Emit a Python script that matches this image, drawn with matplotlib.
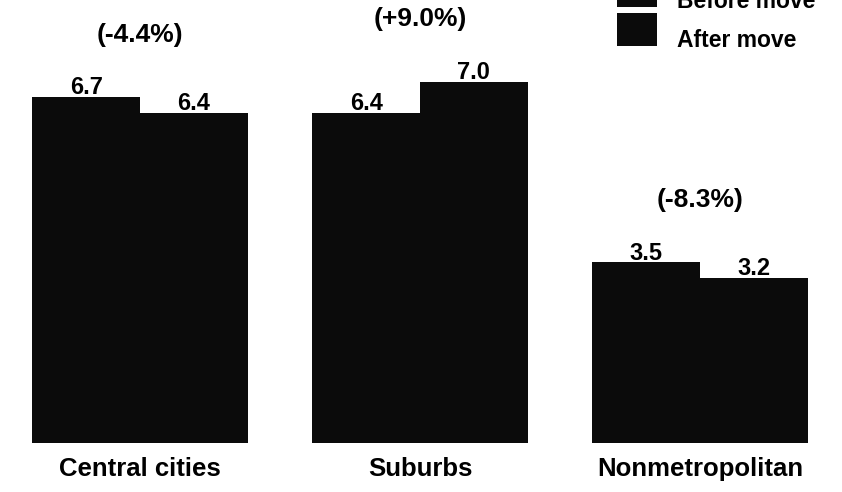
import numpy as np
import matplotlib as mpl
mpl.use('agg')
import matplotlib.pyplot as plt
from matplotlib.container import BarContainer
from matplotlib.legend_handler import HandlerPatch, update_from_first_child
from matplotlib.patches import Rectangle

categories = ['Central cities', 'Suburbs', 'Nonmetropolitan']
before = [6.7, 6.4, 3.5]
after = [6.4, 7.0, 3.2]
before_labels = ['6.7', '6.4', '3.5']
after_labels = ['6.4', '7.0', '3.2']
changes = ['(-4.4%)', '(+9.0%)', '(-8.3%)']

plt.rcParams['font.family'] = ['Liberation Sans', 'DejaVu Sans']
plt.rcParams['font.weight'] = 'bold'

fig = plt.figure(figsize=(8.42, 4.92), dpi=100)
ax = fig.add_axes([0, 49/492, 1, 443/492])

x = np.arange(len(categories))
w = 0.385
ink = '#0b0b0b'
ax.bar(x - w/2, before, w, color=ink, label='Before move')
ax.bar(x + w/2, after, w, color=ink, label='After move')

for i in range(len(x)):
    ax.annotate(before_labels[i], (x[i] - w/2, before[i]), xytext=(0, 2),
                textcoords='offset points', ha='center', va='baseline',
                fontsize=17, fontweight='bold')
    ax.annotate(after_labels[i], (x[i] + w/2, after[i]), xytext=(0, 2),
                textcoords='offset points', ha='center', va='baseline',
                fontsize=17, fontweight='bold')
    ax.annotate(changes[i], (x[i], max(before[i], after[i])), xytext=(0, 45),
                textcoords='offset points', ha='center', va='center',
                fontsize=19, fontweight='bold')

ax.set_xlim(-0.5, 2.507)
ax.set_ylim(0, 8.585)
ax.set_xticks(x)
ax.set_xticklabels(categories, fontsize=18.5, fontweight='bold')
ax.tick_params(axis='x', length=0, pad=10)
ax.set_yticks([])
for s in ax.spines.values():
    s.set_visible(False)


# swatches sit a little higher than the label text in the original
def raised_box(legend, orig_handle, xdescent, ydescent, width, height, fontsize):
    return Rectangle((-xdescent, -ydescent + 0.44 * fontsize), width, height)


fig.legend(loc='upper left', bbox_to_anchor=(617/842, 1 + 16/492),
           frameon=False, borderpad=0, borderaxespad=0,
           handlelength=1.74, handleheight=1.85, handletextpad=0.87,
           labelspacing=0.26, prop={'size': 16.5, 'weight': 'bold'},
           handler_map={BarContainer: HandlerPatch(patch_func=raised_box,
                                                   update_func=update_from_first_child)})

fig.savefig('out.png', dpi=100)
